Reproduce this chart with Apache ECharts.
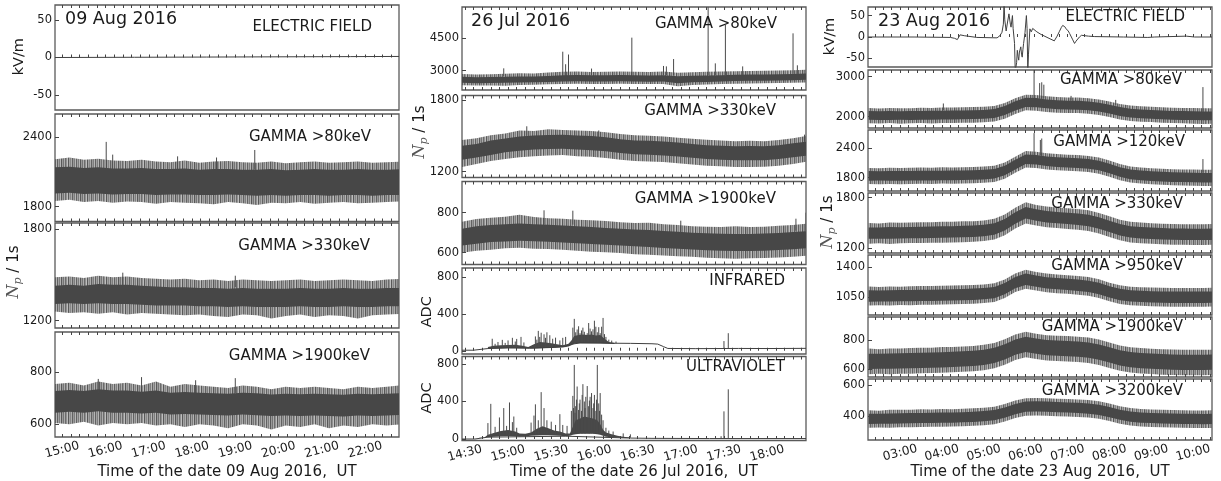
<!DOCTYPE html>
<html><head><meta charset="utf-8">
<script src="https://cdn.jsdelivr.net/npm/echarts@6/dist/echarts.min.js"></script>
<style>html,body{margin:0;padding:0;background:#fff}#c{width:1221px;height:481px}</style>
</head><body><div id="c"></div>
<script>
// Time is in minutes of the day (UT).
// ================= LEFT: 09 Aug 2016 =================
const L_xLabelAt = [900,960,1020,1080,1140,1200,1260,1320];
const L_xLabels = ['15:00','16:00','17:00','18:00','19:00','20:00','21:00','22:00'];
const L_time = [890,910,930,950,970,990,1010,1030,1050,1070,1090,1110,1130,1150,1170,1190,1210,1230,1250,1270,1290,1310,1330,1350,1370];
const L_ef = [[890,0],[1000,0.3],[1100,0.6],[1200,0.9],[1300,1.2],[1367,1.4]];
const L_ef_yTicks = [-50,0,50];
const L_g80_yTicks = [1800,2400];
const L_g80_outerHi = [2210,2225,2205,2215,2200,2195,2205,2190,2185,2200,2180,2190,2195,2185,2180,2190,2175,2185,2190,2180,2185,2190,2180,2185,2190];
const L_g80_coreHi  = [2140,2145,2135,2140,2130,2130,2135,2125,2125,2130,2120,2125,2125,2120,2120,2125,2115,2120,2125,2120,2120,2125,2120,2120,2125];
const L_g80_coreLo  = [1915,1920,1910,1915,1905,1910,1910,1900,1905,1905,1900,1900,1905,1900,1895,1900,1895,1900,1900,1895,1900,1900,1895,1900,1900];
const L_g80_outerLo = [1850,1860,1840,1850,1835,1845,1840,1825,1840,1835,1830,1820,1840,1830,1815,1835,1830,1840,1825,1835,1840,1830,1835,1840,1845];
const L_g80_spikes = [[961,2120,2360],[970,2120,2250],[1060,2120,2235],[1114,2120,2225],[1167,2120,2290]];
const L_g330_yTicks = [1200,1800];
const L_g330_outerHi = [1485,1490,1480,1495,1485,1490,1480,1475,1470,1475,1465,1470,1460,1470,1465,1460,1465,1470,1460,1465,1470,1465,1460,1470,1475];
const L_g330_coreHi  = [1430,1435,1430,1440,1435,1435,1430,1425,1420,1420,1415,1415,1410,1415,1410,1410,1410,1415,1410,1410,1415,1410,1410,1415,1415];
const L_g330_coreLo  = [1310,1315,1310,1315,1310,1310,1305,1300,1300,1300,1295,1295,1290,1295,1290,1290,1290,1295,1290,1290,1295,1290,1290,1295,1295];
const L_g330_outerLo = [1260,1250,1255,1245,1255,1240,1250,1245,1240,1235,1240,1230,1225,1240,1235,1215,1230,1240,1225,1235,1230,1215,1235,1240,1245];
const L_g330_spikes = [[984,1430,1515],[1140,1420,1495]];
const L_g1900_yTicks = [600,800];
const L_g1900_outerHi = [755,760,750,765,755,760,750,765,745,755,750,745,740,750,745,735,745,740,745,740,735,745,740,745,750];
const L_g1900_coreHi  = [728,732,728,735,730,730,726,730,722,725,722,720,718,722,720,715,718,716,718,716,714,718,716,718,720];
const L_g1900_coreLo  = [645,648,645,650,645,645,642,645,638,640,638,636,634,638,635,632,634,632,634,632,630,634,632,634,636];
const L_g1900_outerLo = [605,600,610,595,605,600,605,595,600,590,600,595,585,600,595,580,595,590,600,585,595,590,600,595,600];
const L_g1900_spikes = [[950,720,775],[1010,720,782],[1085,720,770],[1140,720,778]];

// ================= MIDDLE: 26 Jul 2016 =================
const M_xLabelAt = [870,900,930,960,990,1020,1050,1080];
const M_xLabels = ['14:30','15:00','15:30','16:00','16:30','17:00','17:30','18:00'];
const M_time = [868,878,888,898,908,918,928,938,948,958,968,978,988,998,1008,1018,1028,1038,1048,1058,1068,1078,1088,1098,1108];
const M_g80_yTicks = [3000,4500];
const M_g80_outerHi = [2850,2830,2840,2860,2880,2870,2920,2950,2960,2940,2950,2960,2950,2940,2960,2900,2930,2950,2960,2980,2990,3000,3010,3020,3050];
const M_g80_coreHi  = [2720,2700,2710,2720,2730,2730,2760,2790,2800,2790,2790,2800,2790,2780,2790,2740,2770,2780,2790,2810,2820,2830,2840,2850,2870];
const M_g80_coreLo  = [2440,2420,2430,2440,2450,2460,2480,2500,2510,2500,2500,2510,2500,2490,2500,2420,2470,2480,2500,2520,2530,2540,2550,2560,2580];
const M_g80_outerLo = [2330,2310,2320,2300,2340,2350,2370,2390,2400,2390,2380,2400,2390,2380,2390,2280,2340,2360,2390,2400,2410,2420,2430,2440,2460];
const M_g80_spikes = [[897,2750,3110],[938,2750,3880],[940,2750,3300],[942,2750,3750],[958,2800,3100],[986,2800,4530],[1008,2800,3220],[1010,2800,3200],[1015,2800,3540],[1039,2800,5945],[1044,2800,3340],[1051,2800,5120],[1063,2800,3200],[1098,2850,4730],[1101,2850,3250]];
const M_g330_yTicks = [1200,1800];
const M_g330_outerHi = [1465,1480,1505,1520,1545,1540,1555,1550,1545,1540,1530,1515,1505,1500,1495,1485,1475,1468,1460,1455,1458,1455,1465,1480,1500];
const M_g330_coreHi  = [1418,1432,1460,1478,1495,1502,1508,1510,1502,1498,1488,1472,1462,1458,1452,1444,1432,1422,1418,1412,1414,1412,1422,1438,1452];
const M_g330_coreLo  = [1300,1318,1340,1362,1375,1385,1390,1392,1385,1380,1370,1356,1345,1342,1335,1326,1316,1306,1300,1296,1295,1296,1305,1320,1335];
const M_g330_outerLo = [1240,1265,1290,1305,1320,1330,1335,1340,1330,1325,1315,1300,1290,1285,1280,1270,1260,1250,1245,1240,1240,1242,1250,1265,1285];
const M_g330_spikes = [[913,1500,1580],[963,1480,1545],[1106,1450,1510]];
const M_g1900_yTicks = [600,800];
const M_g1900_outerHi = [755,768,775,780,790,778,772,770,765,762,758,752,748,750,742,738,732,730,728,732,728,730,735,738,745];
const M_g1900_coreHi  = [720,732,738,742,746,742,740,736,732,728,724,720,716,713,708,705,700,697,695,694,694,696,698,703,708];
const M_g1900_coreLo  = [636,645,653,656,660,657,655,651,647,643,640,636,632,628,624,620,616,612,610,609,609,610,613,617,623];
const M_g1900_outerLo = [600,610,615,622,625,620,618,615,610,605,602,598,592,590,586,582,580,575,572,570,572,574,576,580,585];
const M_g1900_spikes = [[925,740,812],[945,740,810],[1020,700,760],[1100,710,770],[1107,710,800]];
const M_ir_yTicks = [0,400,800];
const M_irLine = [[868,6],[876,6],[877,22],[886,24],[900,30],[915,28],[930,35],[940,50],[944,70],[950,85],[970,82],[985,80],[1000,76],[1004,72],[1008,45],[1011,25],[1030,23],[1060,25],[1080,24],[1107,26]];
const M_irBandT  = [886,890,895,900,905,910,914,918,922,926,930,934,938,942,944,946,949,952,955,958,961,964,967,970,974];
const M_irBandLo = [20,25,28,30,30,28,25,25,28,30,30,32,35,45,60,75,80,80,80,80,80,80,78,75,72];
const M_irBandHi = [40,55,60,62,65,55,40,70,95,90,80,70,60,75,110,160,170,175,170,175,165,170,130,95,85];
const M_irSpikes = [[889,30,130],[891,30,75],[893,30,95],[896,30,118],[898,30,85],[900,30,112],[903,30,140],[905,30,100],[906,30,128],[909,30,150],[911,30,90],[919,40,155],[920,40,120],[921,40,215],[922,40,150],[923,40,195],[925,40,178],[926,40,140],[927,40,200],[929,40,168],[931,40,130],[933,40,142],[936,40,112],[938,40,140],[940,40,150],[945,90,250],[946,90,345],[947,90,200],[948,90,230],[949,90,265],[950,90,190],[951,90,220],[952,90,250],[953,90,205],[955,90,190],[956,90,300],[957,90,240],[958,90,210],[959,90,232],[960,90,325],[961,90,260],[962,90,200],[963,90,255],[964,90,190],[965,90,260],[966,90,355],[967,90,180],[968,90,150],[970,80,120],[972,80,110],[975,80,100],[1050,25,105],[1053,25,190]];
const M_uv_yTicks = [0,400,800];
const M_uvLine = [[868,0],[877,0],[878,18],[886,20],[940,30],[985,10],[1000,7],[1040,5],[1107,5]];
const M_uvBandT  = [880,884,886,890,895,900,905,908,912,916,920,924,928,932,936,940,943,945,947,950,953,956,959,962,964,966,968,972,976,980,985];
const M_uvBandLo = [15,18,20,25,30,32,30,28,30,35,38,40,40,38,35,30,35,45,50,55,55,55,55,50,45,35,25,20,15,12,10];
const M_uvBandHi = [20,22,45,65,85,95,80,60,55,70,110,135,115,90,80,60,60,130,200,220,240,230,220,200,160,100,70,50,35,25,15];
const M_uvSpikes = [[886,20,170],[888,20,375],[891,40,130],[894,40,230],[897,40,330],[899,40,140],[901,40,390],[903,40,180],[904,40,240],[906,40,120],[916,50,175],[918,50,250],[919,50,370],[921,50,200],[923,50,500],[925,50,330],[927,50,200],[930,50,185],[933,50,150],[936,50,265],[938,50,150],[941,40,140],[944,60,300],[945,60,460],[945.5,60,330],[946,60,790],[946.5,60,280],[947,60,350],[947.5,60,420],[948,60,560],[949,60,310],[949.5,60,380],[950,60,420],[951,60,300],[951.5,60,470],[952,60,585],[953,60,400],[953.5,60,330],[954,60,450],[955,60,565],[956,60,350],[956.5,60,410],[957,60,450],[958,60,490],[959,60,330],[959.5,60,380],[960,60,470],[961,60,300],[961.5,60,420],[962,60,790],[963,60,380],[963.5,60,300],[964,60,490],[965,50,260],[966,50,200],[968,40,120],[970,30,90],[973,30,80],[980,20,60],[985,15,50],[1048,5,30],[1050,5,295],[1053,5,530]];

// ================= RIGHT: 23 Aug 2016 =================
const R_xLabelAt = [180,240,300,360,420,480,540,600];
const R_xLabels = ['03:00','04:00','05:00','06:00','07:00','08:00','09:00','10:00'];
const R_time = [135,150,165,180,195,210,225,240,255,270,285,300,315,330,345,360,375,390,405,420,435,450,465,480,495,510,525,540,555,570,585,600,615,630];
const R_ef_yTicks = [-50,0,50];
const R_ef = [[134,0],[200,0],[252,-1],[258,-3],[262,-6],[266,5],[272,3],[290,-1],[319,-2],[323,3],[326,11],[328,30],[329,80],[330,40],[332,14],[334,35],[336,54],[338,30],[339,23],[341,50],[342,20],[344,-15],[345,-80],[347,-60],[348,-31],[349,-45],[350,-54],[351,-35],[353,-23],[354,-40],[355,-47],[356,-30],[357,-15],[359,10],[361,50],[362,20],[363,-80],[364,-40],[366,19],[368,12],[370,20],[372,17],[376,12],[382,6],[392,-2],[401,-9],[405,2],[408,12],[411,22],[413,27],[416,24],[418,19],[421,14],[423,8],[427,-5],[430,-15],[432,-10],[434,-6],[437,0],[440,4],[450,2],[459,1],[500,0],[535,-1],[545,0],[590,2],[602,0],[627,0]];
const R_g80_yTicks = [2000,3000];
const R_g80_outerHi = [2215,2205,2220,2210,2212,2225,2218,2230,2228,2235,2240,2250,2270,2340,2460,2550,2545,2510,2490,2480,2478,2460,2430,2380,2320,2280,2260,2250,2235,2225,2220,2215,2210,2212];
const R_g80_coreHi  = [2140,2135,2142,2138,2140,2145,2148,2150,2152,2155,2160,2170,2190,2265,2385,2475,2465,2432,2412,2400,2398,2382,2350,2300,2240,2200,2180,2170,2155,2145,2140,2135,2130,2132];
const R_g80_coreLo  = [1922,1920,1918,1922,1920,1925,1925,1928,1930,1935,1940,1950,1970,2040,2155,2245,2235,2208,2188,2180,2172,2158,2130,2080,2020,1980,1960,1950,1935,1925,1920,1915,1910,1910];
const R_g80_outerLo = [1835,1830,1840,1825,1835,1840,1830,1845,1840,1850,1850,1860,1880,1950,2070,2160,2150,2120,2100,2095,2090,2075,2040,1990,1930,1890,1875,1865,1850,1840,1835,1825,1820,1825];
const R_g80_spikes = [[242,2160,2330],[372,2450,3200],[380,2450,2840],[383,2450,2860],[386,2450,2800],[425,2400,2520],[489,2280,2420],[614,2120,2740]];
const R_g120_yTicks = [1800,2400];
const R_g120_outerHi = [2000,1995,2005,2000,2002,2010,2005,2012,2010,2015,2020,2028,2045,2110,2230,2345,2330,2300,2285,2270,2262,2245,2210,2150,2080,2030,2010,1995,1985,1975,1970,1965,1960,1962];
const R_g120_coreHi  = [1935,1932,1938,1935,1937,1940,1940,1944,1945,1948,1952,1960,1980,2045,2165,2275,2265,2235,2215,2205,2195,2180,2145,2085,2015,1965,1945,1930,1920,1910,1905,1900,1895,1897];
const R_g120_coreLo  = [1740,1742,1738,1740,1742,1744,1745,1748,1750,1752,1758,1766,1785,1850,1970,2080,2070,2040,2020,2010,2000,1985,1950,1890,1820,1770,1750,1735,1725,1715,1710,1705,1700,1700];
const R_g120_outerLo = [1670,1665,1672,1668,1672,1675,1670,1680,1678,1682,1688,1696,1715,1780,1900,2010,2000,1970,1950,1940,1930,1915,1880,1820,1750,1700,1680,1665,1655,1645,1640,1635,1630,1632];
const R_g120_spikes = [[372,2250,2710],[381,2250,2570],[383,2250,2600],[614,1900,2180]];
const R_g330_yTicks = [1200,1800];
const R_g330_outerHi = [1500,1495,1505,1502,1506,1510,1508,1514,1515,1520,1522,1530,1550,1600,1680,1745,1715,1695,1685,1676,1665,1650,1620,1580,1540,1515,1505,1498,1492,1488,1486,1484,1485,1490];
const R_g330_coreHi  = [1448,1446,1452,1450,1454,1456,1458,1460,1462,1466,1470,1478,1498,1548,1628,1690,1662,1643,1632,1623,1612,1598,1568,1528,1488,1462,1452,1446,1440,1435,1434,1432,1433,1436];
const R_g330_coreLo  = [1312,1314,1313,1316,1318,1320,1322,1324,1327,1330,1334,1342,1362,1412,1492,1552,1527,1507,1497,1487,1477,1462,1432,1392,1352,1327,1317,1310,1304,1300,1298,1297,1297,1300];
const R_g330_outerLo = [1255,1260,1252,1260,1262,1262,1265,1266,1270,1272,1278,1285,1305,1355,1435,1495,1470,1450,1440,1430,1420,1405,1375,1335,1295,1270,1260,1253,1247,1243,1241,1240,1240,1243];
const R_g950_yTicks = [1050,1400];
const R_g950_outerHi = [1175,1170,1176,1174,1178,1180,1180,1185,1186,1190,1192,1200,1213,1258,1328,1370,1345,1326,1316,1308,1298,1286,1260,1220,1190,1174,1168,1163,1160,1158,1157,1158,1158,1160];
const R_g950_coreHi  = [1131,1129,1133,1134,1135,1137,1139,1141,1144,1147,1151,1158,1171,1216,1286,1326,1304,1284,1274,1266,1256,1244,1218,1178,1148,1132,1126,1121,1118,1116,1116,1116,1116,1118];
const R_g950_coreLo  = [999,1000,1000,1002,1003,1005,1007,1009,1012,1015,1019,1026,1039,1084,1154,1194,1172,1152,1142,1134,1124,1112,1086,1046,1016,1000,994,989,986,984,984,984,984,986];
const R_g950_outerLo = [955,958,954,960,958,962,962,966,968,970,975,982,995,1040,1110,1150,1128,1108,1098,1090,1080,1068,1042,1002,972,956,950,945,942,940,940,940,940,942];
const R_g1900_yTicks = [600,800];
const R_g1900_outerHi = [742,738,742,743,745,748,748,752,753,756,760,767,780,805,837,856,843,833,830,827,823,817,803,783,763,751,745,741,737,735,733,733,733,735];
const R_g1900_coreHi  = [707,706,708,710,711,713,715,717,720,723,727,734,747,772,804,822,810,800,797,794,790,784,770,750,730,718,712,708,704,702,700,700,700,702];
const R_g1900_coreLo  = [603,604,604,606,607,609,611,613,616,619,623,630,643,668,700,718,706,696,693,690,686,680,666,646,626,614,608,604,600,598,596,596,596,598];
const R_g1900_outerLo = [567,570,566,570,571,573,575,577,580,583,587,594,607,632,664,682,670,660,657,654,650,644,630,610,590,578,572,568,564,562,560,560,560,562];
const R_g3200_yTicks = [400,600];
const R_g3200_outerHi = [437,434,440,440,441,443,442,445,444,447,450,454,460,477,500,515,517,515,512,510,507,503,495,480,463,451,445,442,440,438,437,436,435,437];
const R_g3200_coreHi  = [415,414,416,418,419,420,421,422,423,425,428,432,438,455,478,493,495,493,490,488,485,481,473,458,441,429,423,420,418,416,415,414,413,414];
const R_g3200_coreLo  = [349,350,350,352,353,354,355,356,357,359,362,366,372,389,412,427,429,427,424,422,419,415,407,392,375,363,357,354,352,350,349,348,347,348];
const R_g3200_outerLo = [324,326,324,327,328,329,330,331,332,334,337,341,347,364,387,402,404,402,399,397,394,390,382,367,350,338,332,329,327,325,324,323,322,323];

// ================= layout / style =================
const FONT = "'DejaVu Sans', sans-serif";
const TXT = '#1a1a1a';
const DARK = '#474747';
// texture for the sparse noise fringe (pure styling: fine irregular vertical hatch)
function makeHatch(){
  const a=[0.85,0.5,0.7,0.4,0.9,0.55,0.75,0.45,0.8,0.6,0.35,0.9,0.5,0.65,0.45,0.85,0.55,0.7,0.4];
  const cv=document.createElement('canvas'); cv.width=a.length; cv.height=4;
  const ctx=cv.getContext('2d');
  a.forEach((v,i)=>{ctx.fillStyle='rgba(70,70,70,'+v+')'; ctx.fillRect(i,0,1,4);});
  return {image:cv, repeat:'repeat'};
}
const HALO = makeHatch();
const cols = {
  L:{left:55, width:344, xmin:890, xmax:1367, minor:12, at:L_xLabelAt, labels:L_xLabels},
  M:{left:462, width:344, xmin:868, xmax:1107, minor:6, at:M_xLabelAt, labels:M_xLabels},
  R:{left:868, width:344, xmin:134, xmax:627, minor:12, at:R_xLabelAt, labels:R_xLabels}
};
const band = (t, ol, cl, ch, oh) => ({t, ol, cl, ch, oh});
const panels = [
  {col:'L', top:5, h:105, y:[-70,70], yt:L_ef_yTicks, name:'ELECTRIC FIELD', ny:26.7, ni:27, line:L_ef},
  {col:'L', top:114, h:107.5, y:[1672,2601], yt:L_g80_yTicks, name:'GAMMA >80keV', ny:137, ni:28, band:band(L_time,L_g80_outerLo,L_g80_coreLo,L_g80_coreHi,L_g80_outerHi), spikes:L_g80_spikes},
  {col:'L', top:223, h:105, y:[1152,1841], yt:L_g330_yTicks, name:'GAMMA >330keV', ny:245.8, ni:29, band:band(L_time,L_g330_outerLo,L_g330_coreLo,L_g330_coreHi,L_g330_outerHi), spikes:L_g330_spikes},
  {col:'L', top:332, h:105, y:[551,956], yt:L_g1900_yTicks, name:'GAMMA >1900keV', ny:355.8, ni:29, band:band(L_time,L_g1900_outerLo,L_g1900_coreLo,L_g1900_coreHi,L_g1900_outerHi), spikes:L_g1900_spikes, last:true},

  {col:'M', top:7, h:83, y:[2107,5949], yt:M_g80_yTicks, name:'GAMMA >80keV', ny:24, ni:29, band:band(M_time,M_g80_outerLo,M_g80_coreLo,M_g80_coreHi,M_g80_outerHi), spikes:M_g80_spikes},
  {col:'M', top:95.5, h:82, y:[1151,1838], yt:M_g330_yTicks, name:'GAMMA >330keV', ny:111, ni:30, band:band(M_time,M_g330_outerLo,M_g330_coreLo,M_g330_coreHi,M_g330_outerHi), spikes:M_g330_spikes},
  {col:'M', top:181.5, h:83, y:[541,956], yt:M_g1900_yTicks, name:'GAMMA >1900keV', ny:198.7, ni:30, band:band(M_time,M_g1900_outerLo,M_g1900_coreLo,M_g1900_coreHi,M_g1900_outerHi), spikes:M_g1900_spikes},
  {col:'M', top:268, h:86, y:[-35,895], yt:M_ir_yTicks, name:'INFRARED', ny:280.8, ni:21, line:M_irLine, dense:{t:M_irBandT, lo:M_irBandLo, hi:M_irBandHi}, spikes:M_irSpikes},
  {col:'M', top:356.5, h:84, y:[-16,880], yt:M_uv_yTicks, name:'ULTRAVIOLET', ny:367.5, ni:21, line:M_uvLine, dense:{t:M_uvBandT, lo:M_uvBandLo, hi:M_uvBandHi}, spikes:M_uvSpikes, last:true},

  {col:'R', top:7, h:60, y:[-70,70], yt:R_ef_yTicks, name:'ELECTRIC FIELD', ny:17.2, ni:27, line:R_ef},
  {col:'R', top:70, h:58, y:[1717,3167], yt:R_g80_yTicks, name:'GAMMA >80keV', ny:80.5, ni:30, band:band(R_time,R_g80_outerLo,R_g80_coreLo,R_g80_coreHi,R_g80_outerHi), spikes:R_g80_spikes},
  {col:'R', top:130, h:61, y:[1529,2773], yt:R_g120_yTicks, name:'GAMMA >120keV', ny:142.5, ni:27, band:band(R_time,R_g120_outerLo,R_g120_coreLo,R_g120_coreHi,R_g120_outerHi), spikes:R_g120_spikes},
  {col:'R', top:193, h:60, y:[1144,1856], yt:R_g330_yTicks, name:'GAMMA >330keV', ny:204, ni:29, band:band(R_time,R_g330_outerLo,R_g330_coreLo,R_g330_coreHi,R_g330_outerHi)},
  {col:'R', top:255, h:60, y:[843,1543], yt:R_g950_yTicks, name:'GAMMA >950keV', ny:265.8, ni:29, band:band(R_time,R_g950_outerLo,R_g950_coreLo,R_g950_coreHi,R_g950_outerHi)},
  {col:'R', top:317, h:60, y:[548,957], yt:R_g1900_yTicks, name:'GAMMA >1900keV', ny:327.5, ni:29, band:band(R_time,R_g1900_outerLo,R_g1900_coreLo,R_g1900_coreHi,R_g1900_outerHi)},
  {col:'R', top:379, h:61, y:[245,639], yt:R_g3200_yTicks, name:'GAMMA >3200keV', ny:390.8, ni:29, band:band(R_time,R_g3200_outerLo,R_g3200_coreLo,R_g3200_coreHi,R_g3200_outerHi), last:true}
];

function minorTicks(c){
  const v=[]; for(let x=Math.ceil(c.xmin/c.minor)*c.minor; x<=c.xmax; x+=c.minor) v.push(x); return v;
}
function polyPts(api, t, lo, hi){
  const n=Math.min(t.length, lo.length, hi.length), pts=[];
  for(let i=0;i<n;i++) pts.push(api.coord([t[i],hi[i]]));
  for(let i=n-1;i>=0;i--) pts.push(api.coord([t[i],lo[i]]));
  return pts;
}
function bandRender(b){
  return function(params, api){
    if(params.dataIndex!==0) return null;
    return {type:'group', children:[
      {type:'polygon', shape:{points:polyPts(api,b.t,b.ol,b.oh)}, style:{fill:HALO}},
      {type:'polygon', shape:{points:polyPts(api,b.t,b.cl,b.ch)}, style:{fill:DARK}}
    ]};
  };
}
function denseRender(d){
  return function(params, api){
    if(params.dataIndex!==0) return null;
    return {type:'polygon', shape:{points:polyPts(api,d.t,d.lo,d.hi)}, style:{fill:DARK}};
  };
}
function spikeRender(params, api){
  const a=api.coord([api.value(0),api.value(1)]), b=api.coord([api.value(0),api.value(2)]);
  return {type:'line', shape:{x1:a[0],y1:a[1],x2:b[0],y2:b[1]}, style:{stroke:'#4a4a4a', lineWidth:1}};
}

const option = {animation:false, backgroundColor:'#fff', grid:[], xAxis:[], yAxis:[], series:[], graphic:[]};
panels.forEach((p,i)=>{
  const c = cols[p.col];
  option.grid.push({left:c.left, top:p.top, width:c.width, height:p.h, show:true, borderColor:'#5a5a5a', borderWidth:1.3, backgroundColor:'transparent'});
  const minor = minorTicks(c);
  const baseX = {type:'value', gridIndex:i, min:c.xmin, max:c.xmax, splitLine:{show:false}, axisLine:{show:false},
    axisTick:{show:true, inside:true, length:3, customValues:minor, lineStyle:{color:'#444', width:1}}};
  option.xAxis.push(Object.assign({}, baseX, {position:'bottom',
    axisLabel: p.last ? {show:true, customValues:c.at, formatter:(v)=>c.labels[c.at.indexOf(v)], rotate:15, align:'center', verticalAlign:'middle', margin:13, fontSize:12.2, color:TXT, fontFamily:FONT} : {show:false}}));
  option.xAxis.push(Object.assign({}, baseX, {position:'top', axisLabel:{show:false}}));
  option.yAxis.push({type:'value', gridIndex:i, min:p.y[0], max:p.y[1], splitLine:{show:false}, axisLine:{show:false},
    axisTick:{show:true, inside:true, length:4, customValues:p.yt, lineStyle:{color:'#444'}},
    axisLabel:{customValues:p.yt, formatter:(v)=>String(v), fontSize:11.5, color:TXT, fontFamily:FONT, margin:3}});
  const xi=2*i, yi=i;
  if(p.band){
    option.series.push({type:'custom', xAxisIndex:xi, yAxisIndex:yi, clip:true, silent:true,
      data:[[p.band.t[0], p.band.cl[0]]], renderItem:bandRender(p.band)});
  }
  if(p.dense){
    option.series.push({type:'custom', xAxisIndex:xi, yAxisIndex:yi, clip:true, silent:true,
      data:[[p.dense.t[0], p.dense.lo[0]]], renderItem:denseRender(p.dense)});
  }
  if(p.line){
    option.series.push({type:'line', xAxisIndex:xi, yAxisIndex:yi, data:p.line, showSymbol:false, symbol:'none', clip:true, silent:true,
      lineStyle:{color:'#404040', width:1}});
  }
  if(p.spikes){
    option.series.push({type:'custom', xAxisIndex:xi, yAxisIndex:yi, clip:true, silent:true,
      encode:{x:0, y:[1,2]}, data:p.spikes, renderItem:spikeRender});
  }
  option.graphic.push({type:'text', x:c.left+c.width-p.ni, y:p.ny, z:100, silent:true,
    style:{text:p.name, fontSize:15, fontFamily:FONT, fill:TXT, align:'right', verticalAlign:'middle'}});
});

const dates = [
  {x:65, y:19.5, text:'09 Aug 2016'},
  {x:471, y:21.7, text:'26 Jul 2016'},
  {x:878, y:21.7, text:'23 Aug 2016'}
];
dates.forEach(d=>option.graphic.push({type:'text', x:d.x, y:d.y, z:100, silent:true,
  style:{text:d.text, fontSize:17.5, fontFamily:FONT, fill:TXT, align:'left', verticalAlign:'middle'}}));

const xTitles = [
  {x:227, text:'Time of the date 09 Aug 2016,  UT'},
  {x:634, text:'Time of the date 26 Jul 2016,  UT'},
  {x:1040, text:'Time of the date 23 Aug 2016,  UT'}
];
xTitles.forEach(d=>option.graphic.push({type:'text', x:d.x, y:472, z:100, silent:true,
  style:{text:d.text, fontSize:15, fontFamily:FONT, fill:TXT, align:'center', verticalAlign:'middle'}}));

const yTitles = [
  {x:19, y:56.7, text:'kV/m'}, {x:830, y:36.5, text:'kV/m'},
  {x:427, y:311.7, text:'ADC'}, {x:427, y:398, text:'ADC'}
];
yTitles.forEach(d=>option.graphic.push({type:'text', x:d.x, y:d.y, rotation:Math.PI/2, z:100, silent:true,
  style:{text:d.text, fontSize:14.5, fontFamily:FONT, fill:TXT, align:'center', verticalAlign:'middle'}}));

const npTitles = [{x:14, y:272}, {x:420, y:132}, {x:828, y:222}];
npTitles.forEach(d=>option.graphic.push({type:'text', x:d.x, y:d.y, rotation:Math.PI/2, z:100, silent:true,
  style:{text:'{n|N}{p|p}{r| / 1s}', align:'center', verticalAlign:'middle',
    rich:{n:{fontSize:16, fontFamily:"'DejaVu Serif', serif", fontStyle:'italic', fill:'#555'},
          p:{fontSize:11, fontFamily:"'DejaVu Serif', serif", fontStyle:'italic', fill:'#555', padding:[8,0,0,0]},
          r:{fontSize:15, fontFamily:FONT, fill:TXT}}}}));

const chart = echarts.init(document.getElementById('c'), null, {renderer:'canvas'});
chart.setOption(option);
</script></body></html>
